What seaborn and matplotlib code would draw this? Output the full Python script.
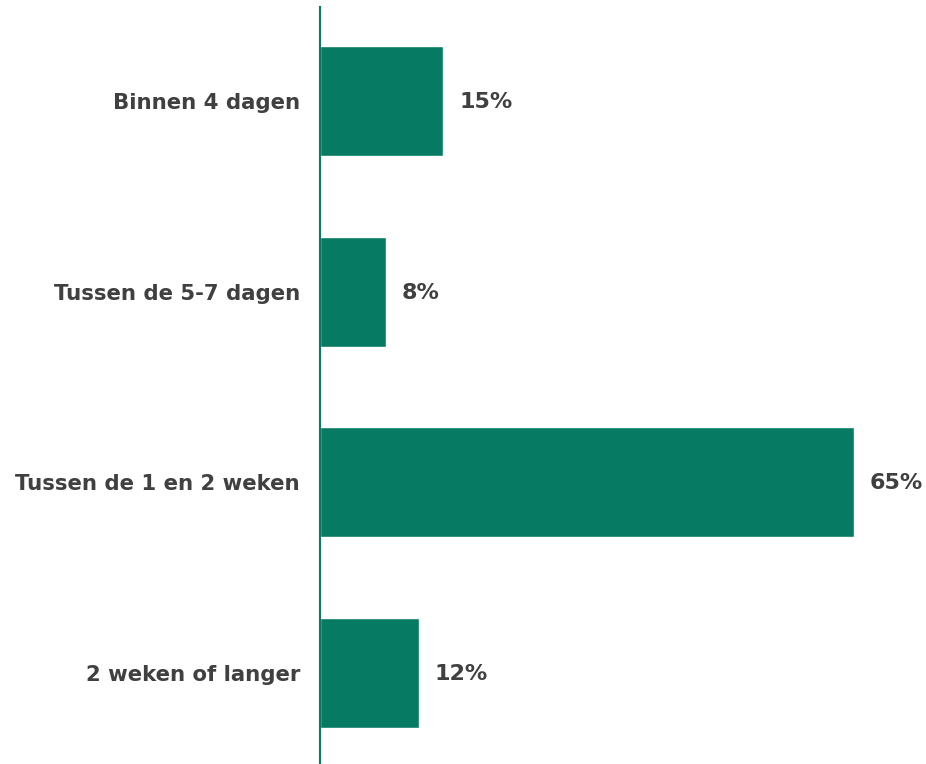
import matplotlib
matplotlib.use("Agg")
import matplotlib.pyplot as plt
import seaborn as sns
import pandas as pd

categories = ["Binnen 4 dagen", "Tussen de 5-7 dagen", "Tussen de 1 en 2 weken", "2 weken of langer"]
percentages = [15, 8, 65, 12]

df = pd.DataFrame({"categorie": categories, "percentage": percentages})

sns.set_theme(style="white")
plt.rcParams["font.family"] = ["DejaVu Sans"]

bar_color = "#077A63"
text_color = "#404040"

W, H = 926, 764
px_per_cat = 190.67
px_per_pct = 8.215

fig = plt.figure(figsize=(W / 100, H / 100), dpi=100)
ax = fig.add_axes([320 / W, 0.0, 1 - 320 / W, 1.0])

sns.barplot(data=df, x="percentage", y="categorie", color=bar_color,
            width=0.577, saturation=1, ax=ax)

top = -101 / px_per_cat
bottom = top + H / px_per_cat
ax.set_xlim(0, (W - 320) / px_per_pct)
ax.set_ylim(bottom, top)

for i, v in enumerate(percentages):
    ax.text(v + 16 / px_per_pct, i + 0.005, f"{v}%", va="center", ha="left",
            fontsize=16, fontweight="bold", color=text_color)

ax.set_xlabel("")
ax.set_ylabel("")
ax.set_xticks([])
ax.tick_params(axis="y", length=0, pad=14.4, labelsize=15.3, labelcolor=text_color)
for lbl in ax.get_yticklabels():
    lbl.set_fontweight("bold")

for side in ["top", "right", "bottom"]:
    ax.spines[side].set_visible(False)
ax.spines["left"].set_color(bar_color)
ax.spines["left"].set_linewidth(1.5)
ax.spines["left"].set_bounds(bottom, top + 7 / px_per_cat)

fig.savefig("out.png", dpi=100, facecolor="white")
